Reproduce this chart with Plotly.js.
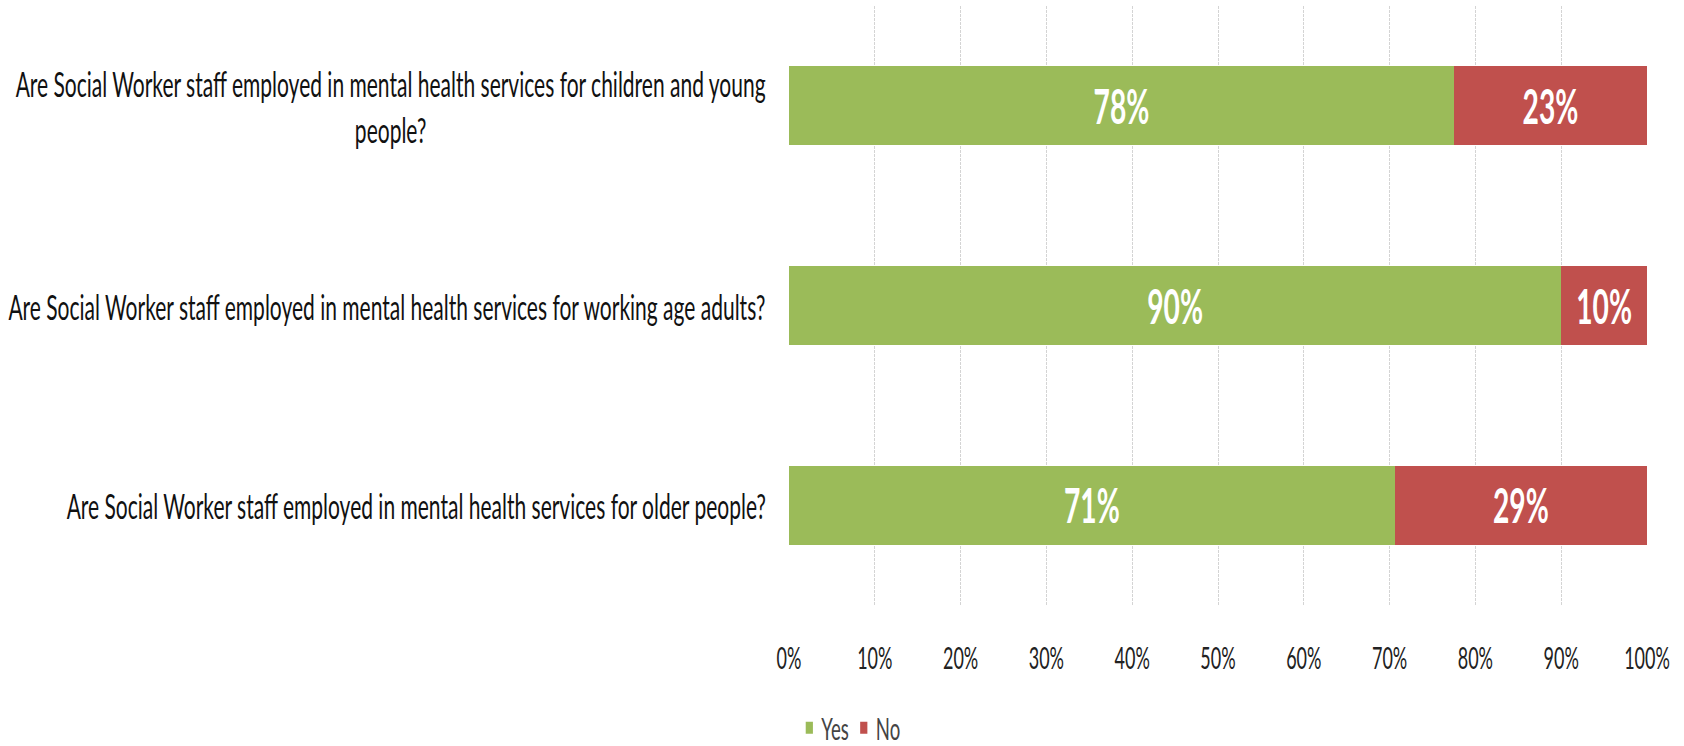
<!DOCTYPE html>
<html>
<head>
<meta charset="utf-8">
<script src="https://cdn.plot.ly/plotly-3.0.1.min.js"></script>
<style>
  html, body { margin: 0; padding: 0; background: #fff; overflow: hidden; }
  #wrap { width: 1684px; height: 746px; overflow: hidden; position: relative; }
  #chart { position: absolute; left: 0; top: 0; transform-origin: 0 0; }
</style>
</head>
<body>
<div id="wrap"><div id="chart"></div></div>
<script>
// ---- data ----
var categories = [
  "Are Social Worker staff employed in mental health services for children and young<br>people?",
  "Are Social Worker staff employed in mental health services for working age adults?",
  "Are Social Worker staff employed in mental health services for older people?"
];
var yesValues = [77.5, 90, 70.6];
var noValues  = [22.5, 10, 29.4];
var seriesNames = ["Yes", "No"];
var tickValues = [0, 10, 20, 30, 40, 50, 60, 70, 80, 90, 100];
var tickLabels = ["0%", "10%", "20%", "30%", "40%", "50%", "60%", "70%", "80%", "90%", "100%"];

// The reference is a horizontally condensed rendering: draw wide, then squeeze.
var SX = 0.6;
var W = 1684, H = 746;
var FONT = 'Lato, "Open Sans", sans-serif';
var GREEN = '#9BBB59';
var RED = '#C0504D';

function pctText(arr) { return arr.map(function (v) { return Math.round(v) + '%'; }); }

var traces = [
  {
    type: 'bar', orientation: 'h', name: seriesNames[0],
    y: categories, x: yesValues,
    marker: { color: GREEN },
    text: pctText(yesValues), textposition: 'inside', insidetextanchor: 'middle',
    textfont: { family: FONT, size: 47, color: '#ffffff', weight: 'bold' },
    constraintext: 'none', hoverinfo: 'x+name'
  },
  {
    type: 'bar', orientation: 'h', name: seriesNames[1],
    y: categories, x: noValues,
    marker: { color: RED },
    text: pctText(noValues), textposition: 'inside', insidetextanchor: 'middle',
    textfont: { family: FONT, size: 47, color: '#ffffff', weight: 'bold' },
    constraintext: 'none', hoverinfo: 'x+name'
  }
];

var annotations = categories.map(function (c) {
  return {
    xref: 'paper', yref: 'y', x: 0, y: c, xanchor: 'right', yanchor: 'middle',
    xshift: -22 / SX, text: c, showarrow: false, align: 'center',
    font: { family: FONT, size: 35, color: '#111111' }
  };
});

var layout = {
  width: W / SX, height: H,
  margin: { l: 789 / SX, r: 37 / SX, t: 6, b: 141 },
  barmode: 'stack',
  bargap: 0.605,
  paper_bgcolor: '#ffffff', plot_bgcolor: '#ffffff',
  showlegend: true,
  legend: {
    orientation: 'h', xref: 'container', yref: 'container',
    x: 0.505, xanchor: 'center', y: 0.024, yanchor: 'middle',
    font: { family: FONT, size: 31, color: '#444444' },
    itemwidth: 30, traceorder: 'normal'
  },
  xaxis: {
    range: [0, 100], tickvals: tickValues, ticktext: tickLabels,
    showgrid: true, gridcolor: '#d4d4d4', gridwidth: 1 / SX, griddash: '3px,1px',
    zeroline: false, showline: false, ticks: '',
    ticklabelstandoff: 33,
    tickfont: { family: FONT, size: 30, color: '#222222' },
    fixedrange: true
  },
  yaxis: {
    autorange: 'reversed', showticklabels: false, showgrid: false,
    zeroline: false, showline: false, ticks: '', fixedrange: true
  },
  annotations: annotations
};

var el = document.getElementById('chart');
el.style.transform = 'scaleX(' + SX + ')';
Plotly.newPlot(el, traces, layout, { displayModeBar: false, staticPlot: true });
</script>
</body>
</html>
